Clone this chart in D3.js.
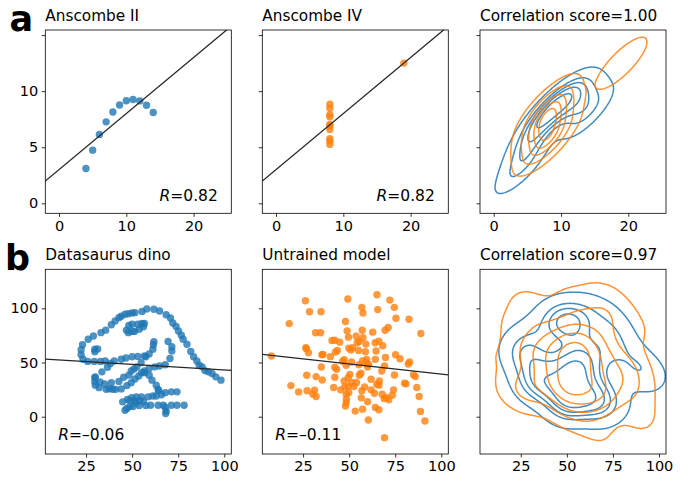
<!DOCTYPE html>
<html><head><meta charset="utf-8">
<script src="https://cdn.jsdelivr.net/npm/d3@7"></script>
<style>
body{margin:0;background:#fff}
text{font-family:"DejaVu Sans",sans-serif}
</style>
</head><body>
<svg id="chart" width="694" height="479"></svg>
<script>
// ---------- data ----------
const anscombe2X = [10,8,13,9,11,14,6,4,12,7,5];
const anscombe2Y = [9.14,8.14,8.74,8.77,9.26,8.10,6.13,3.10,9.13,7.26,4.74];
const anscombe4X = [8,8,8,8,8,8,8,19,8,8,8];
const anscombe4Y = [6.58,5.76,7.71,8.84,8.47,7.04,5.25,12.50,5.56,7.91,6.89];

const dinoX = [55.3846,51.5385,46.1538,42.8205,40.7692,38.7179,35.641,33.0769,28.9744,26.1538,23.0769,22.3077,22.3077,23.3333,25.8974,29.4872,32.8205,35.3846,40.2564,44.1026,46.6667,50,53.0769,56.6667,59.2308,61.2821,61.5385,61.7949,57.4359,54.8718,52.5641,48.2051,49.4872,51.0256,45.3846,42.8205,38.7179,35.1282,32.5641,30,33.5897,36.6667,38.2051,29.7436,29.7436,30,32.0513,35.8974,41.0256,44.1026,47.1795,49.4872,51.5385,53.5897,55.1282,56.6667,59.2308,62.3077,64.8718,67.9487,70.5128,71.5385,71.5385,69.4872,46.9231,48.2051,50,53.0769,55.3846,56.6667,56.1538,53.8462,51.2821,50,47.9487,29.7436,29.7436,31.2821,57.9487,61.7949,64.8718,68.4615,70.7692,72.0513,73.8462,75.1282,76.6667,77.6923,79.7436,81.7949,83.3333,85.1282,86.4103,87.9487,89.4872,93.3333,95.3846,98.2051,56.6667,59.2308,60.7692,63.0769,64.1026,64.359,74.359,71.2821,67.9487,65.8974,63.0769,61.2821,58.7179,55.1282,52.3077,49.7436,47.4359,44.8718,48.7179,51.2821,54.1026,56.1538,52.0513,48.7179,47.1795,46.1538,50.5128,53.8462,57.4359,60,64.1026,66.9231,71.2821,74.359,78.2051,67.9487,68.4615,68.2051,37.6923,39.4872,91.2821,50,47.9487,44.1026];
const dinoY = [97.1795,96.0256,94.4872,91.4103,88.3333,84.8718,79.8718,77.5641,74.4872,71.4103,66.4103,61.7949,57.1795,52.9487,51.0256,51.0256,51.0256,51.4103,51.4103,52.9487,54.1026,55.2564,55.641,56.0256,57.9487,62.1795,66.4103,69.1026,55.2564,49.8718,46.0256,38.3333,42.1795,44.1026,36.4103,32.5641,31.4103,30.2564,32.1795,36.7949,41.4103,45.641,49.1026,36.0256,32.1795,29.1026,26.7949,25.2564,25.2564,25.641,28.718,31.4103,34.8718,37.5641,40.641,42.1795,44.4872,46.0256,46.7949,47.9487,53.718,60.641,64.4872,69.4872,79.8718,84.1026,85.2564,85.2564,86.0256,86.0256,82.9487,80.641,78.718,78.718,77.5641,59.8718,62.1795,62.5641,99.4872,99.1026,97.5641,94.1026,91.0256,86.4103,83.3333,79.1026,75.2564,71.4103,66.7949,60.2564,55.2564,51.4103,47.5641,46.0256,42.5641,39.8718,36.7949,33.718,40.641,38.3333,33.718,29.1026,25.2564,24.1026,22.9487,22.9487,22.1795,20.2564,19.1026,19.1026,18.3333,18.3333,18.3333,17.5641,16.0256,13.7179,14.8718,14.8718,14.8718,14.1026,12.5641,9.4872,7.5641,6.0256,9.4872,10.2564,10.2564,10.641,10.641,10.641,10.641,10.641,10.641,8.718,5.2564,2.9487,25.7692,25.3846,41.5385,95.7692,95,92.6923];

const untrainedX = [65.1,49.3,72.1,26.3,56.9,74.5,65.5,28.5,34.7,57.5,75.4,82.5,48.0,17.5,71.2,69.5,48.9,57.1,62.8,31.8,34.5,88.9,53.8,49.6,57.5,40.7,42.2,44.9,54.4,55.5,59.1,64.1,66.1,68.2,26.5,26.8,27.9,43.6,42.5,49.8,50.9,51.8,55.1,58.8,64.6,35.2,35.8,39.8,7.8,75.2,69.7,77.6,82.8,82.1,47.3,51.3,59.5,57.3,64.2,59.1,60.6,69.2,60.0,46.5,48.4,34.9,42.2,43.2,55.3,67.7,74.6,84.9,85.9,27.0,32.1,35.4,42.2,47.3,49.5,50.4,51.3,54.0,55.5,56.4,61.9,65.0,66.4,80.1,80.8,18.4,41.6,45.4,49.6,52.6,56.9,58.4,61.9,66.2,74.1,86.7,22.6,27.2,31.2,30.3,32.1,49.8,56.6,63.7,67.9,70.1,69.0,71.5,73.4,88.0,48.5,48.4,48.0,60.0,64.2,66.1,57.3,53.3,60.4,88.7,91.1,69.2,48.4,47.6];
const untrainedY = [112.5,108.6,107.6,107.0,100.9,100.9,98.8,96.9,96.9,95.7,90.8,89.9,87.8,85.9,82.3,79.8,79.2,79.8,78.0,77.4,77.4,76.8,74.3,73.4,72.8,70.3,70.6,68.8,68.2,69.7,67.0,68.2,69.7,65.4,63.6,62.7,59.0,61.2,59.6,63.3,61.5,63.6,61.2,59.9,60.6,57.2,57.5,55.4,56.0,57.2,54.7,53.5,50.5,48.6,52.6,50.5,52.9,51.4,52.9,49.8,48.3,46.8,45.9,51.1,47.4,45.9,45.6,43.7,48.0,42.2,38.5,38.8,37.0,38.2,37.0,33.9,36.4,33.0,36.1,39.1,31.5,31.5,38.2,40.1,34.6,30.0,33.0,30.9,30.3,28.7,26.9,24.8,27.8,27.8,23.9,27.5,24.8,29.1,24.8,26.9,22.9,23.9,24.5,20.8,18.7,22.3,17.4,21.7,20.8,17.7,16.8,15.6,19.9,18.7,16.2,12.8,9.8,13.8,8.6,6.4,7.0,5.2,-3.1,4.9,-4.0,-19.3,20.8,27.5];

// regression lines (intercept, slope) and R labels for scatter panels
const fitIntercepts = [3.0, 3.0, 53.45, 58.05];
const fitSlopes = [0.5, 0.5, -0.1036, -0.188];
const rValues = ["0.82", "0.82", "\u20130.06", "\u20130.11"];
const titles = ["Anscombe II", "Anscombe IV", "Correlation score=1.00",
                "Datasaurus dino", "Untrained model", "Correlation score=0.97"];
const panelLetters = ["a", "b"];
const row1XTicks = [0, 10, 20];
const row1YTicks = [0, 5, 10, 15];
const row1YTickLabels = ["0", "5", "10", ""];
const row2XTicks = [25, 50, 75, 100];
const row2YTicks = [0, 50, 100];

// ---------- layout ----------
const BLUE = "#1f77b4", ORANGE = "#ff7f0e";
const svg = d3.select("#chart");
const colX = [45.3, 262.3, 480];
const PW = 186;
const rows = [
  {top: 30, h: 183.3, xd: [-2.04, 25.6], yd: [-0.89, 15.45], xt: row1XTicks, yt: row1YTicks, ytl: row1YTickLabels},
  {top: 269.3, h: 184.7, xd: [2.88, 103.8], yd: [-34.4, 136], xt: row2XTicks, yt: row2YTicks, ytl: row2YTicks.map(String)}
];

function kde2d(xs, ys, N = 200, cut = 3) {
  const n = xs.length;
  const mx = d3.mean(xs), my = d3.mean(ys);
  let sxx = 0, syy = 0, sxy = 0;
  for (let i = 0; i < n; i++) {
    const dx = xs[i] - mx, dy = ys[i] - my;
    sxx += dx * dx; syy += dy * dy; sxy += dx * dy;
  }
  sxx /= (n - 1); syy /= (n - 1); sxy /= (n - 1);
  const f = Math.pow(n, -1 / 6);
  const cxx = sxx * f * f, cyy = syy * f * f, cxy = sxy * f * f;
  const det = cxx * cyy - cxy * cxy;
  const ixx = cyy / det, iyy = cxx / det, ixy = -cxy / det;
  const bwx = Math.sqrt(cxx), bwy = Math.sqrt(cyy);
  const x0 = d3.min(xs) - cut * bwx, x1 = d3.max(xs) + cut * bwx;
  const y0 = d3.min(ys) - cut * bwy, y1 = d3.max(ys) + cut * bwy;
  const sx = (x1 - x0) / (N - 1), sy = (y1 - y0) / (N - 1);
  const values = new Array(N * N);
  for (let j = 0; j < N; j++) {
    const gy = y0 + j * sy;
    for (let i = 0; i < N; i++) {
      const gx = x0 + i * sx;
      let s = 0;
      for (let k = 0; k < n; k++) {
        const dx = gx - xs[k], dy = gy - ys[k];
        s += Math.exp(-0.5 * (ixx * dx * dx + 2 * ixy * dx * dy + iyy * dy * dy));
      }
      values[j * N + i] = s / (2 * Math.PI * Math.sqrt(det) * n);
    }
  }
  return {values, x0, y0, sx, sy, N};
}

function isoLevels(values, nLevels, thresh) {
  const sorted = values.slice().sort((a, b) => b - a);
  const total = d3.sum(sorted);
  const cum = []; let c = 0;
  for (const v of sorted) { c += v; cum.push(c / total); }
  const props = d3.range(nLevels).map(i => thresh + i * (1 - thresh) / (nLevels - 1));
  return props.map(p => {
    const idx = d3.bisectLeft(cum, 1 - p);
    return sorted[Math.min(idx, sorted.length - 1)];
  }).filter((v, i) => i < nLevels - 1).sort((a, b) => a - b);
}

function drawKDE(g, xs, ys, color, x, y, clipId) {
  const k = kde2d(xs, ys);
  const levels = isoLevels(k.values, 6, 0.05);
  const contours = d3.contours().size([k.N, k.N]).thresholds(levels)(k.values);
  const proj = d3.geoTransform({
    point: function (px, py) {
      this.stream.point(x(k.x0 + (px - 0.5) * k.sx), y(k.y0 + (py - 0.5) * k.sy));
    }
  });
  const path = d3.geoPath(proj);
  g.append("g").attr("clip-path", `url(#${clipId})`)
    .selectAll("path").data(contours).join("path")
    .attr("d", path).attr("fill", "none")
    .attr("stroke", color).attr("stroke-width", 1.5).attr("stroke-opacity", 0.85)
    .attr("stroke-linejoin", "round");
}

const scatterSets = [
  [anscombe2X, anscombe2Y, BLUE], [anscombe4X, anscombe4Y, ORANGE],
  [dinoX, dinoY, BLUE], [untrainedX, untrainedY, ORANGE]
];

rows.forEach((r, ri) => {
  colX.forEach((cx, ci) => {
    const pi = ri * 3 + ci;
    const x = d3.scaleLinear().domain(r.xd).range([cx, cx + PW]);
    const y = d3.scaleLinear().domain(r.yd).range([r.top + r.h, r.top]);
    const g = svg.append("g");
    const clipId = "clip" + pi;
    svg.append("clipPath").attr("id", clipId).append("rect")
      .attr("x", cx).attr("y", r.top).attr("width", PW).attr("height", r.h);

    if (ci < 2) {
      const si = ri * 2 + ci;
      const [xs, ys, col] = scatterSets[si];
      const gg = g.append("g").attr("clip-path", `url(#${clipId})`);
      gg.selectAll("circle").data(d3.range(xs.length)).join("circle")
        .attr("cx", i => x(xs[i])).attr("cy", i => y(ys[i])).attr("r", 3.7)
        .attr("fill", col).attr("fill-opacity", 0.8);
      const a = fitIntercepts[si], b = fitSlopes[si];
      gg.append("line")
        .attr("x1", x(r.xd[0])).attr("y1", y(a + b * r.xd[0]))
        .attr("x2", x(r.xd[1])).attr("y2", y(a + b * r.xd[1]))
        .attr("stroke", "#262626").attr("stroke-width", 1.3);
      const t = g.append("text").attr("font-size", 15.5).attr("fill", "#000");
      if (ri === 0) {
        t.attr("x", cx + PW - 13.5).attr("y", r.top + r.h - 12.5).attr("text-anchor", "end");
      } else {
        t.attr("x", cx + 13).attr("y", r.top + r.h - 14).attr("text-anchor", "start");
      }
      t.append("tspan").attr("font-style", "italic").text("R");
      t.append("tspan").text("=" + rValues[si]);
    } else {
      if (ri === 0) {
        drawKDE(g, anscombe2X, anscombe2Y, BLUE, x, y, clipId);
        drawKDE(g, anscombe4X, anscombe4Y, ORANGE, x, y, clipId);
      } else {
        drawKDE(g, dinoX, dinoY, BLUE, x, y, clipId);
        drawKDE(g, untrainedX, untrainedY, ORANGE, x, y, clipId);
      }
    }

    // axes
    const xa = g.append("g").attr("transform", `translate(0,${r.top + r.h})`)
      .call(d3.axisBottom(x).tickValues(r.xt).tickSize(3.5).tickPadding(3.5).tickSizeOuter(0));
    const ya = g.append("g").attr("transform", `translate(${cx},0)`)
      .call(d3.axisLeft(y).tickValues(r.yt).tickSize(3.5).tickPadding(3.5).tickSizeOuter(0)
        .tickFormat((d, i) => ci === 0 ? r.ytl[i] : ""));
    [xa, ya].forEach(a => {
      a.select(".domain").remove();
      a.selectAll("line").attr("stroke", "#000").attr("stroke-width", 0.8);
      a.selectAll("text").attr("font-size", 14.5).attr("fill", "#000")
        .attr("font-family", '"DejaVu Sans", sans-serif');
    });
    g.append("rect").attr("x", cx).attr("y", r.top).attr("width", PW).attr("height", r.h)
      .attr("fill", "none").attr("stroke", "#000").attr("stroke-width", 0.8);

    g.append("text").attr("x", cx).attr("y", r.top - 9.5)
      .attr("font-size", 15.3).attr("fill", "#000").text(titles[pi]);
  });
  svg.append("text").attr("x", ri === 0 ? 9.5 : 5).attr("y", ri === 0 ? 31 : 270)
    .attr("font-size", 35).attr("font-weight", "bold").attr("fill", "#000")
    .text(panelLetters[ri]);
});
</script>
</body></html>
